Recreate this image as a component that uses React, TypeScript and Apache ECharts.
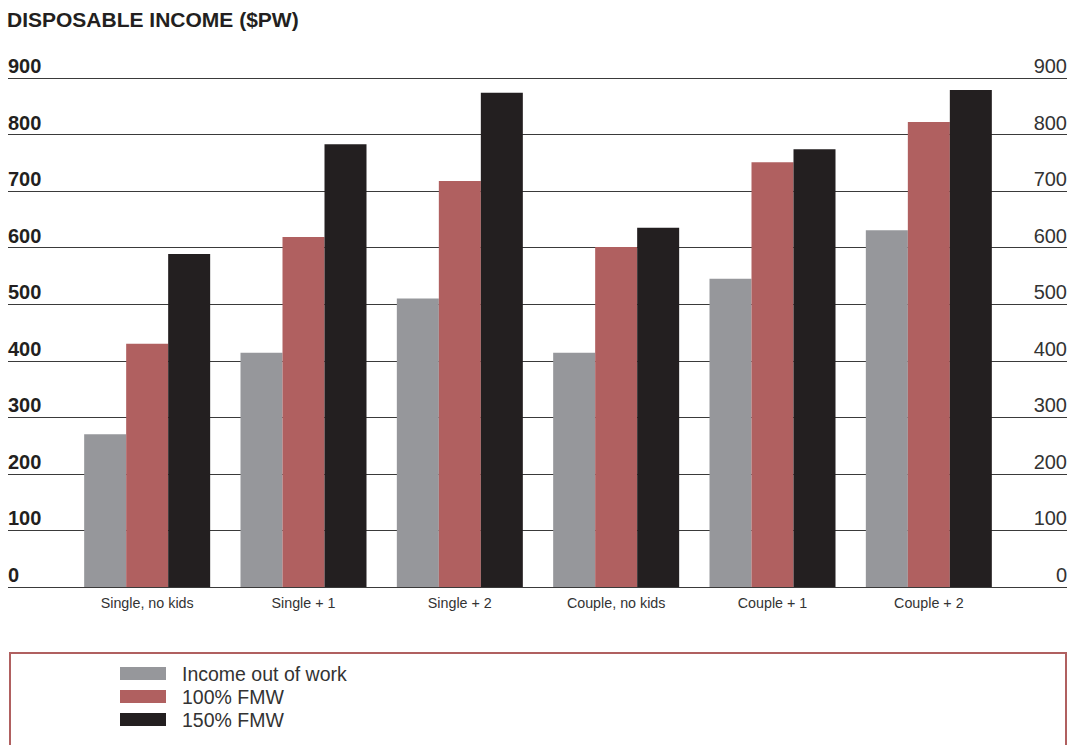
import React, { useEffect, useRef } from "react";
import * as echarts from "echarts";

const categories = ["Single, no kids", "Single + 1", "Single + 2", "Couple, no kids", "Couple + 1", "Couple + 2"];
const outOfWork = [270, 414, 510, 414, 545, 631];
const fmw100 = [430, 619, 718, 601, 751, 822];
const fmw150 = [589, 783, 874, 635, 774, 879];
const seriesNames = ["Income out of work", "100% FMW", "150% FMW"];
const yMin = 0;
const yMax = 900;
const yStep = 100;

const FONT = "'Liberation Sans', Arial, Helvetica, sans-serif";

export default function App() {
  const ref = useRef<HTMLDivElement>(null);
  useEffect(() => {
    if (!ref.current) return;
    const chart = echarts.init(ref.current, null, { renderer: "svg" });
    const colors = ["#96979b", "#b06060", "#231f20"];
    chart.setOption({
      animation: false,
      backgroundColor: "#ffffff",
      textStyle: { fontFamily: FONT },
      title: {
        text: "DISPOSABLE INCOME ($PW)",
        left: 7,
        top: 9,
        padding: 0,
        textStyle: { fontFamily: FONT, fontSize: 21, fontWeight: "bold", color: "#231f20" },
      },
      legend: {
        orient: "vertical",
        left: 120,
        top: 663,
        padding: 0,
        height: 80,
        itemWidth: 46,
        itemHeight: 13,
        itemGap: 2,
        icon: "rect",
        data: seriesNames,
        textStyle: { fontFamily: FONT, fontSize: 19.5, lineHeight: 21, color: "#333333", padding: [0, 0, 0, 11] },
      },
      graphic: [
        {
          type: "rect",
          shape: { x: 10, y: 653, width: 1056, height: 110 },
          style: { fill: "none", stroke: "#b06060", lineWidth: 2 },
          silent: true,
        },
      ],
      grid: [
        { left: 8, right: 17, top: 78, bottom: 158 },
        { left: 69, right: 77, top: 78, bottom: 158 },
      ],
      xAxis: [
        { gridIndex: 0, type: "value", show: false, min: 0, max: 1 },
        {
          gridIndex: 1,
          type: "category",
          data: categories,
          axisLine: { show: false },
          axisTick: { show: false },
          axisLabel: { fontFamily: FONT, fontSize: 14.3, color: "#333333", margin: 9 },
        },
      ],
      yAxis: [
        {
          gridIndex: 0,
          type: "value",
          position: "left",
          min: yMin,
          max: yMax,
          interval: yStep,
          axisLine: { show: false },
          axisTick: { show: false },
          splitLine: { show: true, lineStyle: { color: "#3a3a3a", width: 1 } },
          axisLabel: {
            inside: true,
            margin: 0,
            verticalAlign: "bottom",
            align: "left",
            padding: [0, 0, 2, 0],
            fontFamily: FONT,
            fontSize: 20,
            fontWeight: "bold",
            color: "#231f20",
          },
        },
        {
          gridIndex: 0,
          type: "value",
          position: "right",
          min: yMin,
          max: yMax,
          interval: yStep,
          axisLine: { show: false },
          axisTick: { show: false },
          splitLine: { show: false },
          axisLabel: {
            inside: true,
            margin: 0,
            verticalAlign: "bottom",
            align: "right",
            padding: [0, 0, 2, 0],
            fontFamily: FONT,
            fontSize: 20,
            color: "#333333",
          },
        },
        { gridIndex: 1, type: "value", show: false, min: yMin, max: yMax },
      ],
      series: [
        { name: seriesNames[0], data: outOfWork, color: colors[0] },
        { name: seriesNames[1], data: fmw100, color: colors[1] },
        { name: seriesNames[2], data: fmw150, color: colors[2] },
      ].map((s) => ({
        ...s,
        type: "bar",
        xAxisIndex: 1,
        yAxisIndex: 2,
        barWidth: 42,
        barGap: "0%",
        itemStyle: { color: s.color },
      })),
    });
    return () => chart.dispose();
  }, []);
  return <div ref={ref} style={{ position: "fixed", left: 0, top: 0, width: 1084, height: 745 }} />;
}
